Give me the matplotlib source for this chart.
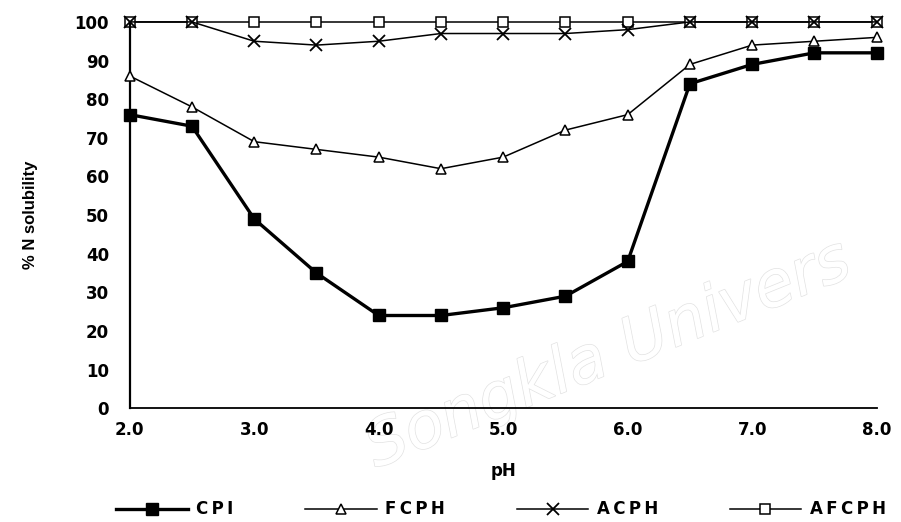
import matplotlib
matplotlib.use("Agg")
import matplotlib.pyplot as plt
import matplotlib.patheffects as pe

plt.rcParams["font.family"] = ["DejaVu Sans"]
plt.rcParams["font.weight"] = "bold"

ph = [2.0, 2.5, 3.0, 3.5, 4.0, 4.5, 5.0, 5.5, 6.0, 6.5, 7.0, 7.5, 8.0]
cpi = [76, 73, 49, 35, 24, 24, 26, 29, 38, 84, 89, 92, 92]
fcph = [86, 78, 69, 67, 65, 62, 65, 72, 76, 89, 94, 95, 96]
acph = [100, 100, 95, 94, 95, 97, 97, 97, 98, 100, 100, 100, 100]
afcph = [100, 100, 100, 100, 100, 100, 100, 100, 100, 100, 100, 100, 100]

x_ticks = [2.0, 3.0, 4.0, 5.0, 6.0, 7.0, 8.0]
y_ticks = list(range(0, 101, 10))

fig = plt.figure(figsize=(9.01, 5.22), dpi=100)
ax = fig.add_axes([0.144, 0.218, 0.829, 0.740])
ax.patch.set_visible(False)

ax.plot(ph, afcph, color="black", lw=1.1, marker="s", ms=7, mfc="white",
        mec="black", mew=1.1, label="AFCPH", clip_on=False, zorder=2)
ax.plot(ph, acph, color="black", lw=1.1, marker="x", ms=8, mew=1.3,
        label="ACPH", clip_on=False, zorder=3)
ax.plot(ph, fcph, color="black", lw=1.1, marker="^", ms=7.5, mfc="white",
        mec="black", mew=1.1, label="FCPH", clip_on=False, zorder=3)
ax.plot(ph, cpi, color="black", lw=2.4, marker="s", ms=8, mfc="black",
        mec="black", label="CPI", clip_on=False, zorder=4)

ax.set_xlim(2.0, 8.0)
ax.set_ylim(0, 100)
ax.set_xticks(x_ticks)
ax.set_xticklabels([f"{v:.1f}" for v in x_ticks])
ax.set_yticks(y_ticks)
ax.tick_params(length=0, labelsize=12, pad=9)
ax.tick_params(axis="y", pad=15)
for s in ["top", "right"]:
    ax.spines[s].set_visible(False)
ax.spines["left"].set_linewidth(1.6)
ax.spines["bottom"].set_linewidth(1.3)

ax.set_xlabel("pH", fontsize=12, fontweight="bold", labelpad=17)
ax.set_ylabel("% N solubility", fontsize=12, fontweight="bold", labelpad=26,
              family=["Liberation Sans Narrow", "Liberation Sans"])

# faint watermark
fig.text(0.675, 0.32, "Songkla Univers", fontsize=46, style="italic",
         fontweight="normal", color="white", rotation=22, ha="center",
         va="center", zorder=-1,
         path_effects=[pe.withStroke(linewidth=1.0, foreground="#e2e2e2")])

handles, labels = ax.get_legend_handles_labels()
order = [3, 2, 1, 0]
leg = ax.legend([handles[i] for i in order],
                ["\u2009".join(labels[i]) for i in order],
                loc="center", bbox_to_anchor=(0.497, -0.262), ncol=4,
                frameon=False, fontsize=12, handlelength=4.3,
                columnspacing=4.3, handletextpad=0.5,
                borderpad=0.1, borderaxespad=0)
for t in leg.get_texts():
    t.set_fontweight("bold")

fig.savefig("out.png", dpi=100)
